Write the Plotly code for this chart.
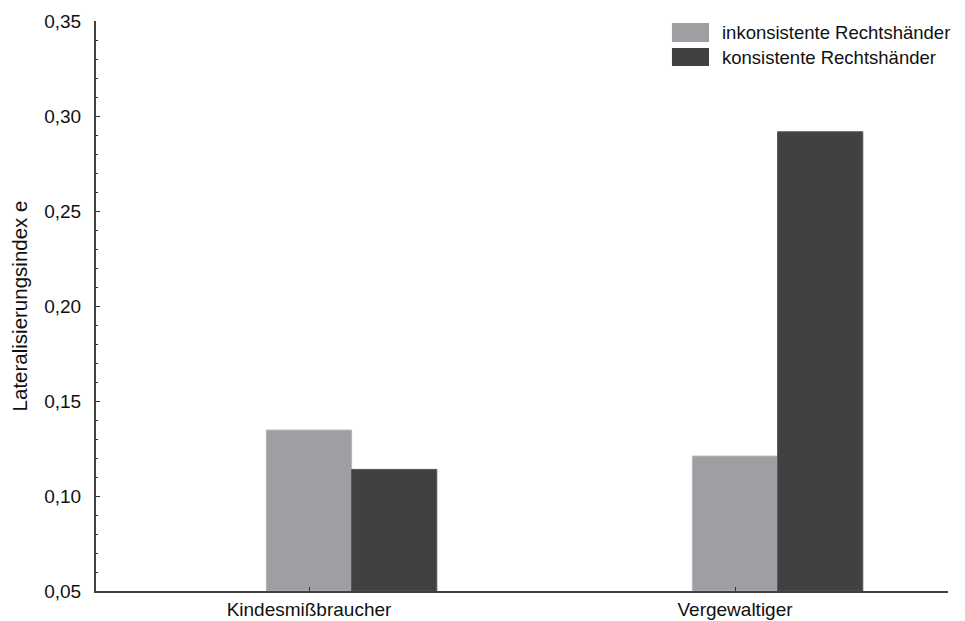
import plotly.graph_objects as go

categories = ["Kindesmißbraucher", "Vergewaltiger"]
series_names = ["inkonsistente Rechtshänder", "konsistente Rechtshänder"]
inkonsistent = [0.1347, 0.121]
konsistent = [0.114, 0.2917]
y_tickvals = [0.05, 0.10, 0.15, 0.20, 0.25, 0.30, 0.35]

colors = ["#9f9ea3", "#414141"]
line_colors = ["#b5b4b8", "#555555"]
FONT = "Liberation Sans, Arial, sans-serif"
FS = 19

fig = go.Figure()
for name, vals, col, lc, off in zip(series_names, [inkonsistent, konsistent], colors, line_colors, [-0.1, 0.1]):
    fig.add_trace(go.Bar(
        x=categories, y=[v - 0.05 for v in vals], base=0.05, name=name,
        marker=dict(color=col, line=dict(color=lc, width=1)),
        width=0.2, offset=off, showlegend=False,
    ))

# legend drawn as layout shapes + text
shapes = []
annotations = []
leg_rows = [(0.9965, 0.963), (0.9526, 0.921)]
for (y1, y0), name, col in zip(leg_rows, series_names, colors):
    shapes.append(dict(type="rect", xref="paper", yref="paper", x0=0.676, x1=0.7195,
                       y0=y0, y1=y1, fillcolor=col, line=dict(width=0)))
    annotations.append(dict(xref="paper", yref="paper", x=0.7325, y=(y0 + y1) / 2,
                            text=name, showarrow=False, xanchor="left", yanchor="middle",
                            font=dict(family=FONT, size=18.5, color="#111111")))

fig.update_layout(
    width=965, height=621,
    margin=dict(l=88, r=25, t=13, b=38, autoexpand=False),
    paper_bgcolor="white", plot_bgcolor="white",
    barmode="overlay",
    separators=",.",
    font=dict(family=FONT, size=FS, color="#111111"),
    shapes=shapes, annotations=annotations,
    showlegend=False,
)
fig.update_xaxes(
    type="category", range=[-0.5, 1.5], automargin=False,
    showline=True, linecolor="#404040", linewidth=2,
    ticks="inside", ticklen=4, tickcolor="#303030", tickwidth=1,
    showgrid=False, zeroline=False,
    tickfont=dict(family=FONT, size=FS, color="#111111"),
)
fig.update_yaxes(
    range=[0.05, 0.35], tickvals=y_tickvals, tickformat=".2f", automargin=False,
    showline=True, linecolor="#404040", linewidth=2,
    ticks="inside", ticklen=4, tickcolor="#303030", tickwidth=1,
    minor=dict(dtick=0.01, ticks="inside", ticklen=2, tickcolor="#303030", showgrid=False),
    showgrid=False, zeroline=False,
    ticklabelstandoff=9,
    title=dict(text="Lateralisierungsindex e", standoff=16,
               font=dict(family=FONT, size=20.5, color="#111111")),
    tickfont=dict(family=FONT, size=FS, color="#111111"),
)

fig.write_html("out.html")
